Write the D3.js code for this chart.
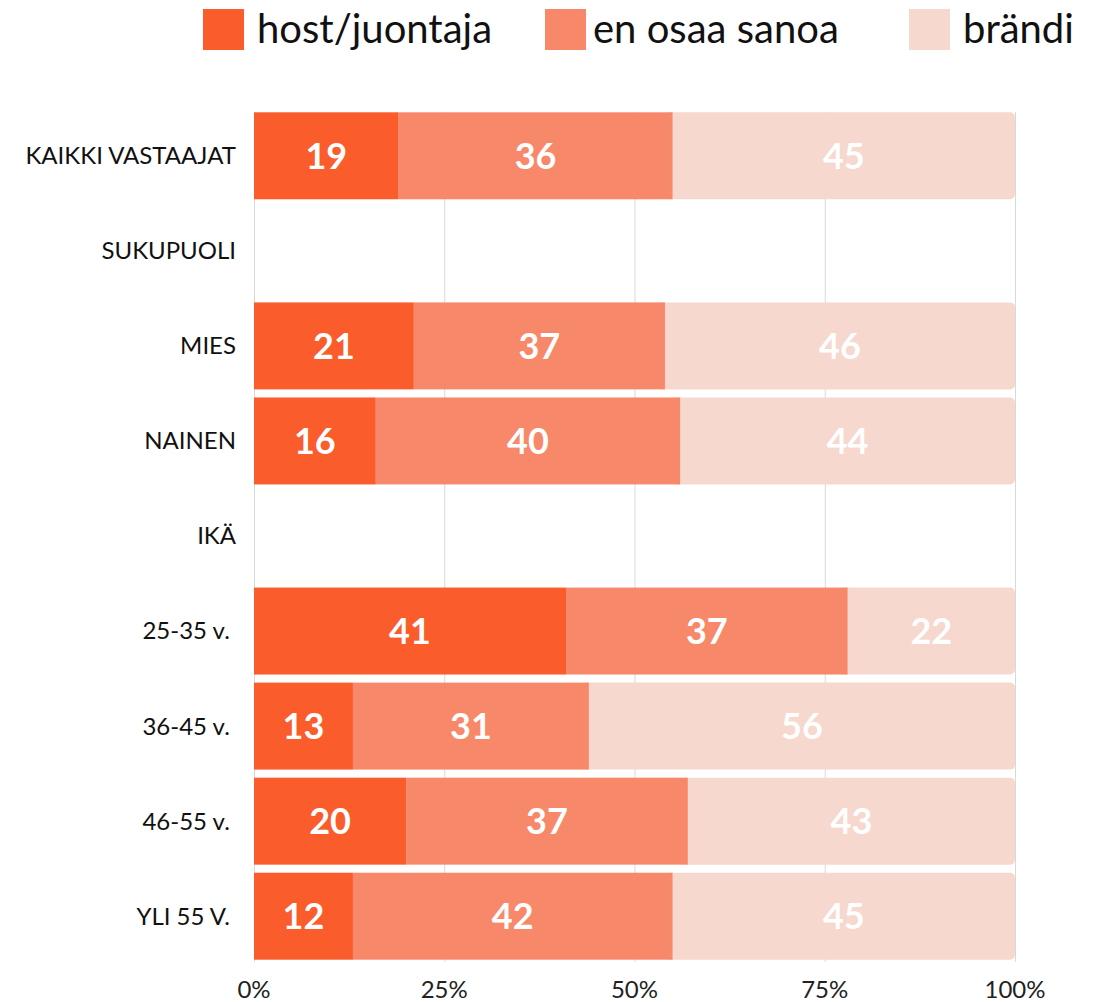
<!DOCTYPE html>
<html>
<head>
<meta charset="utf-8">
<script src="https://cdn.jsdelivr.net/npm/d3@7"></script>
<style>
  body { margin: 0; background: #fff; }
  svg { font-family: Lato, "Open Sans", sans-serif; }
</style>
</head>
<body>
<svg id="chart" width="1101" height="1002"></svg>
<script>
// rows, top to bottom (SUKUPUOLI and IKÄ are group headings with no bar)
var categories = ["KAIKKI VASTAAJAT", "SUKUPUOLI", "MIES", "NAINEN", "IKÄ", "25-35 v. ", "36-45 v. ", "46-55 v. ", "YLI 55 V. "];
var seriesNames = ["host/juontaja", "en osaa sanoa", "brändi"];
var seriesColors = ["#fa5c2c", "#f7896a", "#f6d8cf"];

// bar lengths as drawn (percent)
var hostValues  = [19, null, 21, 16, null, 41, 13, 20, 13];
var osaaValues  = [36, null, 33, 40, null, 37, 31, 37, 42];
var brandiValues = [45, null, 46, 44, null, 22, 56, 43, 45];

// numbers printed on the bars
var hostLabels  = [19, null, 21, 16, null, 41, 13, 20, 12];
var osaaLabels  = [36, null, 37, 40, null, 37, 31, 37, 42];
var brandiLabels = [45, null, 46, 44, null, 22, 56, 43, 45];

var xTicks = [0, 25, 50, 75, 100];

var svg = d3.select("svg#chart"),
  width = +svg.attr("width"),
  height = +svg.attr("height");

var x = d3.scaleLinear().domain([0, 100]).range([254, 1015]);
var y = d3.scaleBand().domain(categories).range([108.5, 963.5]).paddingInner(0.085).paddingOuter(0.04);

// build the stacked rows
var rows = categories.map(function(c, i) {
  return { cat: c, vals: [hostValues[i], osaaValues[i], brandiValues[i]],
           labels: [hostLabels[i], osaaLabels[i], brandiLabels[i]] };
});
var segs = [];
rows.forEach(function(r) {
  if (r.vals[0] == null) return;
  var acc = 0;
  r.vals.forEach(function(v, k) {
    var x0 = acc, x1 = Math.min(100, acc + v);
    if (k == 2) x1 = 100;
    segs.push({ cat: r.cat, k: k, x0: x0, x1: x1, label: r.labels[k] });
    acc += v;
  });
});

// grid
svg.append("g").attr("class", "grid")
  .selectAll("line")
  .data(xTicks)
  .enter().append("line")
  .attr("x1", function(d) { return x(d) + 0.5; })
  .attr("x2", function(d) { return x(d) + 0.5; })
  .attr("y1", 112)
  .attr("y2", 962)
  .attr("stroke", "#d9d9d9")
  .attr("stroke-width", 1);

// bars - last segment drawn first, a bit wider to the left, so only its right corners show rounded
var bars = svg.append("g").attr("class", "bars");
bars.selectAll("rect")
  .data(segs.slice().sort(function(a, b) { return b.k - a.k; }))
  .enter().append("rect")
  .attr("x", function(d) { return d.k == 2 ? x(d.x0) - 8 : x(d.x0); })
  .attr("width", function(d) { return d.k == 2 ? x(d.x1) - x(d.x0) + 8 : x(d.x1) - x(d.x0); })
  .attr("y", function(d) { return y(d.cat); })
  .attr("height", y.bandwidth())
  .attr("rx", function(d) { return d.k == 2 ? 5 : 0; })
  .attr("fill", function(d) { return seriesColors[d.k]; });

bars.selectAll("text")
  .data(segs)
  .enter().append("text")
  .attr("x", function(d) { return (x(d.x0) + x(d.x1)) / 2; })
  .attr("y", function(d) { return y(d.cat) + y.bandwidth() / 2; })
  .attr("dy", "0.36em")
  .attr("text-anchor", "middle")
  .attr("fill", "#fff")
  .style("font-weight", "bold")
  .style("font-size", "36px")
  .text(function(d) { return d.label; });

// category labels
svg.append("g").attr("class", "cats")
  .selectAll("text")
  .data(categories)
  .enter().append("text")
  .attr("x", 236)
  .attr("y", function(d) { return y(d) + y.bandwidth() / 2; })
  .attr("dy", "0.35em")
  .attr("text-anchor", "end")
  .style("white-space", "pre")
  .style("font-size", "24px")
  .attr("fill", "#111")
  .text(function(d) { return d; });

// x axis tick labels
svg.append("g").attr("class", "xaxis")
  .selectAll("text")
  .data(xTicks)
  .enter().append("text")
  .attr("x", function(d) { return x(d); })
  .attr("y", 998)
  .attr("text-anchor", "middle")
  .style("font-size", "24px")
  .attr("fill", "#222")
  .text(function(d) { return d + "%"; });

// legend
var legendX = [203, 545, 909];
var legend = svg.append("g").attr("class", "legend")
  .selectAll("g")
  .data(seriesNames)
  .enter().append("g")
  .attr("transform", function(d, i) { return "translate(" + legendX[i] + ",9)"; });
legend.append("rect")
  .attr("width", 41)
  .attr("height", 41)
  .attr("fill", function(d, i) { return seriesColors[i]; });
legend.append("text")
  .attr("x", function(d, i) { return i == 1 ? 48 : 54; })
  .attr("y", 34)
  .style("font-size", "40px")
  .attr("fill", "#111")
  .text(function(d) { return d; });
</script>
</body>
</html>
